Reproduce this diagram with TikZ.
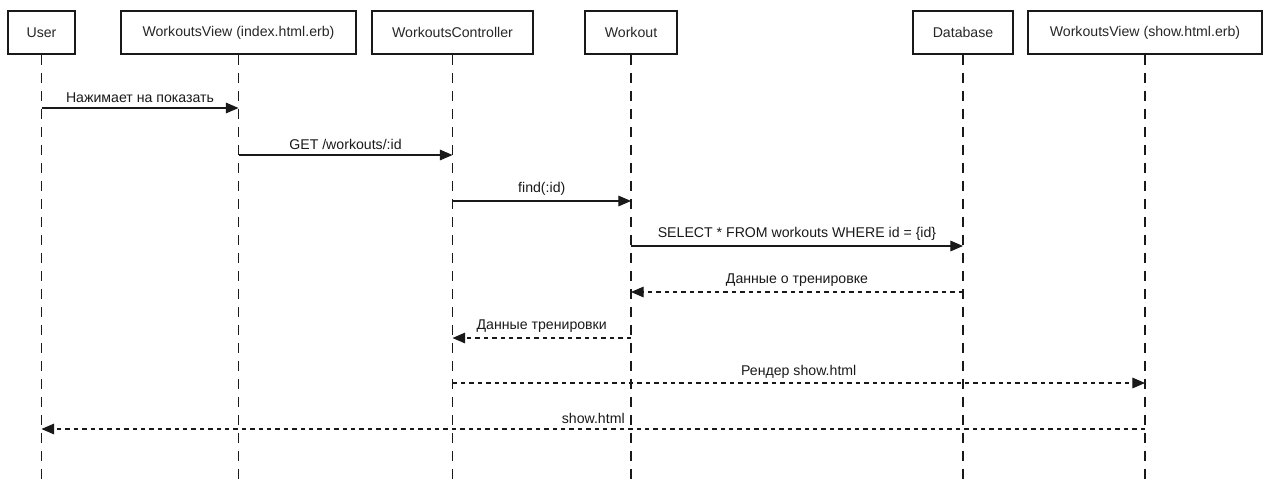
\documentclass[tikz,border=0pt]{standalone}
\usepackage{fontspec}
\setmainfont{Liberation Sans}
\usepackage{tikz}
\usetikzlibrary{arrows.meta}

\begin{document}
\begin{tikzpicture}[x=0.75pt,y=-0.75pt,>={Triangle[length=9.5pt,width=8pt]},font=\fontsize{10.6}{13}\selectfont]
  \tikzstyle{actor}=[draw=black!90,line width=1.4pt,minimum height=32pt,inner sep=2pt,text=black!85]
  \tikzstyle{lifeline}=[black!90,line width=0.8pt,dash pattern=on 8pt off 5.5pt]
  \tikzstyle{call}=[->,black!90,line width=0.8pt]
  \tikzstyle{reply}=[->,black!90,line width=0.8pt,dash pattern=on 3.3pt off 3pt]
  \useasboundingbox (0,0) rectangle (1269,486);

  \node[actor,minimum width=50pt]  (user) at (41.5,32.5)  {User};
  \node[actor,minimum width=176pt] (idx)  at (238.5,32.5) {WorkoutsView (index.html.erb)};
  \node[actor,minimum width=121pt] (ctrl) at (452.5,32.5) {WorkoutsController};
  \node[actor,minimum width=69pt]  (wk)   at (631,32.5)   {Workout};
  \node[actor,minimum width=75pt]  (db)   at (963,32.5)   {Database};
  \node[actor,minimum width=175pt] (show) at (1145,32.5)  {WorkoutsView (show.html.erb)};

  \coordinate (bottom) at (0,486);
  \foreach \p in {user,idx,ctrl,wk,db,show}
    \draw[lifeline] (\p.south) -- (\p |- bottom);

  \coordinate (r1) at (0,108);
  \coordinate (r2) at (0,155);
  \coordinate (r3) at (0,201);
  \coordinate (r4) at (0,246);
  \coordinate (r5) at (0,292);
  \coordinate (r6) at (0,338);
  \coordinate (r7) at (0,383);
  \coordinate (r8) at (0,429);

  \draw[call]  (user |- r1) -- node[above=0.5pt] {Нажимает на показать} (idx |- r1);
  \draw[call]  (idx |- r2)  -- node[above=0.5pt] {GET /workouts/:id} (ctrl |- r2);
  \draw[call]  (ctrl |- r3) -- node[above=0.5pt] {find(:id)} (wk |- r3);
  \draw[call]  (wk |- r4)   -- node[above=0.5pt] {SELECT * FROM workouts WHERE id = \{id\}} (db |- r4);
  \draw[reply] (db |- r5)   -- node[above=0.5pt] {Данные о тренировке} (wk |- r5);
  \draw[reply] (wk |- r6)   -- node[above=0.5pt] {Данные тренировки} (ctrl |- r6);
  \draw[reply] (ctrl |- r7) -- node[above=0pt] {Рендер show.html} (show |- r7);
  \draw[reply] (show |- r8) -- node[above=0pt] {show.html} (user |- r8);
\end{tikzpicture}
\end{document}
